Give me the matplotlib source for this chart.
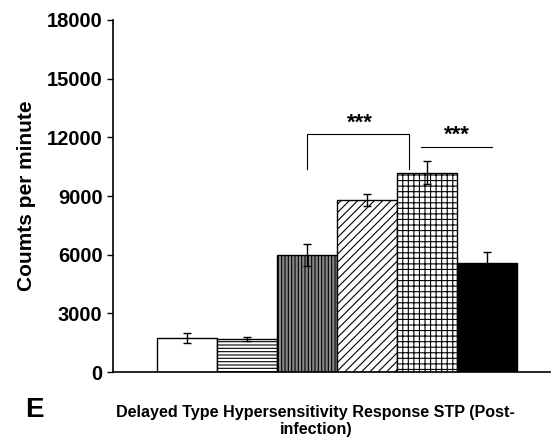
import numpy as np
import matplotlib.pyplot as plt

plt.rcParams['font.family'] = ['Liberation Sans', 'DejaVu Sans']
plt.rcParams['hatch.linewidth'] = 0.8

# data
groups = ["G1", "G2", "G3", "G4", "G5", "G6"]
counts = [1750, 1700, 6000, 8800, 10200, 5600]
errors = [250, 100, 550, 300, 600, 550]
faces = ["white", "white", "#8a8a8a", "white", "white", "black"]
hatches = [None, "-----", "|||||", "////", "+++", None]
yticks = [0, 3000, 6000, 9000, 12000, 15000, 18000]

fig = plt.figure(figsize=(5.59, 4.42), dpi=100)
ax = fig.add_axes([0.202, 0.158, 0.782, 0.797])

x = np.arange(len(groups))
for i in range(len(groups)):
    ax.bar(x[i], counts[i], width=1.0, color=faces[i], edgecolor="black",
           hatch=hatches[i], linewidth=1.0)
ax.errorbar(x, counts, yerr=errors, fmt="none", ecolor="black",
            elinewidth=1, capsize=3, capthick=1)

# significance marks
ax.plot([2, 2, 3.7, 3.7], [10400, 12150, 12150, 10400], color="black", lw=0.8)
ax.text(2.88, 12200, "***", ha="center", va="bottom", fontsize=16, fontweight="bold")
ax.plot([3.9, 5.08], [11500, 11500], color="black", lw=0.8)
ax.text(4.5, 11550, "***", ha="center", va="bottom", fontsize=16, fontweight="bold")

ax.set_xlim(-1.23, 6.05)
ax.set_ylim(0, 18000)
ax.set_yticks(yticks)
ax.set_yticklabels([str(t) for t in yticks], fontsize=14.5, fontweight="bold")
ax.set_xticks([])
ax.tick_params(axis="y", direction="out", length=4, width=1)
ax.spines["top"].set_visible(False)
ax.spines["right"].set_visible(False)
ax.spines["left"].set_linewidth(1.2)
ax.spines["bottom"].set_linewidth(1.2)
ax.set_ylabel("Coumts per minute", fontsize=15, fontweight="bold", labelpad=8)

fig.text(0.565, 0.048, "Delayed Type Hypersensitivity Response STP (Post-\ninfection)",
         ha="center", va="center", fontsize=11.6, fontweight="bold", linespacing=1.15)
fig.text(0.045, 0.043, "E", ha="left", va="bottom", fontsize=20, fontweight="bold")

fig.savefig("out.png", dpi=100)
